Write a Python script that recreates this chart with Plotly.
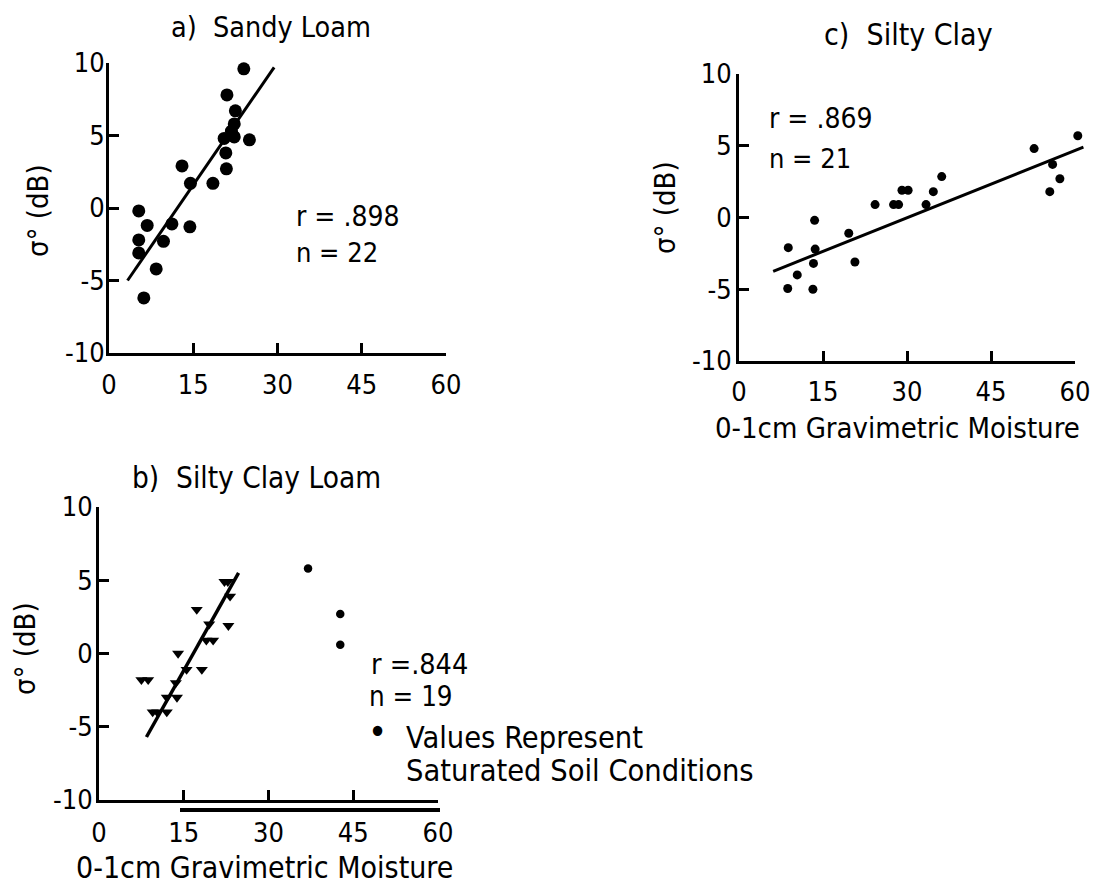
import plotly.graph_objects as go

W, H = 1101, 886
OFF = 8  # page body margin of the html page
FONT = "DejaVu Sans Condensed"

# ---------------- data ----------------
x_ticks = [0, 15, 30, 45, 60]
x_ticktext = ["0", "15", "30", "45", "60"]
y_ticks = [-10, -5, 0, 5, 10]
y_ticktext = ["-10", "-5", "0", "5", "10"]

# a) Sandy Loam
a_x = [24.0, 21.0, 22.5, 22.3, 20.5, 22.3, 25.0, 20.8, 20.9, 13.0, 14.5,
       18.5, 5.3, 6.8, 11.2, 14.4, 9.7, 5.3, 5.3, 8.4, 6.2, 21.8]
a_y = [9.6, 7.8, 6.7, 5.8, 4.8, 4.9, 4.7, 3.8, 2.7, 2.9, 1.7,
       1.7, -0.2, -1.2, -1.1, -1.3, -2.3, -2.2, -3.1, -4.2, -6.2, 5.3]
a_fit_x = [3.3, 29.4]
a_fit_y = [-5.0, 9.7]

# b) Silty Clay Loam
b_x = [7.5, 8.7, 9.5, 10.3, 12.0, 12.0, 13.8, 13.6, 14.0, 15.5, 18.2,
       17.3, 19.0, 20.2, 19.5, 22.9, 22.2, 22.8, 23.2]
b_y = [-1.8, -1.8, -4.0, -4.0, -4.0, -3.0, -3.0, -2.0, 0.0, -1.1, -1.1,
       3.0, 0.9, 0.9, 2.0, 1.9, 4.9, 4.9, 3.9]
b_sat_x = [37.0, 42.7, 42.7]
b_sat_y = [5.8, 2.7, 0.6]
b_fit_x = [8.4, 24.7]
b_fit_y = [-5.7, 5.5]

# c) Silty Clay
c_x = [8.8, 8.7, 10.4, 13.5, 13.6, 13.3, 13.2, 19.6, 20.7, 24.3, 27.6,
       28.5, 29.1, 30.2, 33.4, 34.7, 36.2, 52.7, 56.0, 55.5, 57.3, 60.5]
c_y = [-2.1, -4.95, -4.0, -0.2, -2.2, -3.2, -5.0, -1.1, -3.1, 0.9, 0.9,
       0.9, 1.9, 1.9, 0.9, 1.8, 2.85, 4.8, 3.7, 1.8, 2.7, 5.7]
c_fit_x = [6.1, 61.5]
c_fit_y = [-3.75, 4.9]


def pxx(x):
    return (x - OFF) / W


def pxy(y):
    return 1 - (y - OFF) / H


fig = go.Figure()

blk = "black"
# panel a
fig.add_trace(go.Scatter(x=a_x, y=a_y, mode="markers", xaxis="x", yaxis="y",
                         cliponaxis=False,
                         marker=dict(symbol="circle", size=13, color=blk)))
fig.add_trace(go.Scatter(x=a_fit_x, y=a_fit_y, mode="lines", xaxis="x", yaxis="y",
                         line=dict(color=blk, width=3)))
# panel b
fig.add_trace(go.Scatter(x=b_x, y=b_y, mode="markers", xaxis="x2", yaxis="y2",
                         cliponaxis=False,
                         marker=dict(symbol="triangle-down", size=10.5, color=blk)))
fig.add_trace(go.Scatter(x=b_sat_x, y=b_sat_y, mode="markers", xaxis="x2", yaxis="y2",
                         cliponaxis=False,
                         marker=dict(symbol="circle", size=8.5, color=blk)))
fig.add_trace(go.Scatter(x=b_fit_x, y=b_fit_y, mode="lines", xaxis="x2", yaxis="y2",
                         line=dict(color=blk, width=3.5)))
# panel c: data drawn on a hidden axis with the same scale as the visible one
# but a slightly wider extent, so marks just past 60 stay visible
fig.add_trace(go.Scatter(x=c_x, y=c_y, mode="markers", xaxis="x4", yaxis="y3",
                         cliponaxis=False,
                         marker=dict(symbol="circle", size=9, color=blk)))
fig.add_trace(go.Scatter(x=c_fit_x, y=c_fit_y, mode="lines", xaxis="x4", yaxis="y3",
                         cliponaxis=False,
                         line=dict(color=blk, width=3)))
# an empty trace so the visible x3/y3 axes are drawn
fig.add_trace(go.Scatter(x=[], y=[], mode="markers", xaxis="x3", yaxis="y3"))

TICK_SIZE = 27


def xax(x0, x1, anchor, standoff):
    return dict(domain=[pxx(x0), pxx(x1)], range=[0, 60], anchor=anchor,
                tickvals=x_ticks, ticktext=x_ticktext,
                showline=True, linecolor=blk, linewidth=3,
                ticks="inside", ticklen=10, tickwidth=3, tickcolor=blk,
                showgrid=False, zeroline=False, ticklabelstandoff=standoff,
                automargin=False,
                tickfont=dict(family=FONT, size=TICK_SIZE, color=blk))


def yax(y0, y1, anchor, standoff):
    return dict(domain=[pxy(y1), pxy(y0)], range=[-10, 10], anchor=anchor,
                tickvals=y_ticks, ticktext=y_ticktext,
                showline=True, linecolor=blk, linewidth=3,
                ticks="inside", ticklen=10, tickwidth=3, tickcolor=blk,
                showgrid=False, zeroline=False, ticklabelstandoff=standoff,
                automargin=False,
                tickfont=dict(family=FONT, size=TICK_SIZE, color=blk))


annotations = []


def note(text, x, y, xanchor="center", size=28, angle=0):
    annotations.append(dict(text=text, x=pxx(x), y=pxy(y), xref="paper", yref="paper",
                            xanchor=xanchor, yanchor="middle", showarrow=False,
                            textangle=angle, borderpad=0,
                            font=dict(family=FONT, size=size, color=blk)))


note("a)\u00a0 Sandy Loam", 271, 27, size=28.5)
note("b)\u00a0 Silty Clay Loam", 256, 478, size=29.5)
note("c)\u00a0 Silty Clay", 908, 35, size=30)
note("σ° (dB)", 38, 211, size=29, angle=-90)
note("σ° (dB)", 25, 649, size=29, angle=-90)
note("σ° (dB)", 665, 208, size=29, angle=-90)
note("0-1cm Gravimetric Moisture", 898, 428, size=29)
note("0-1cm Gravimetric Moisture", 264, 867, size=30)
note("r = .898", 295, 216, "left", size=28)
note("n = 22", 295, 252, "left", size=27)
note("r = .869", 768, 118, "left", size=28)
note("n = 21", 768, 158, "left", size=27)
note("r =.844", 370, 664, "left", size=28.5)
note("n = 19", 368, 696, "left", size=27.5)
note("•", 367, 731, "left", size=36)
note("Values Represent", 405, 737, "left", size=30.5)
note("Saturated Soil Conditions", 405, 770, "left", size=30.5)

C_X0, C_X1, C_X1_EXT = 739, 1075, 1095
x4 = dict(domain=[pxx(C_X0), pxx(C_X1_EXT)],
          range=[0, 60 * (C_X1_EXT - C_X0) / (C_X1 - C_X0)],
          anchor="y3", visible=False, showgrid=False, zeroline=False)

fig.update_layout(
    width=W, height=H,
    margin=dict(l=0, r=0, t=0, b=0, pad=0, autoexpand=False),
    paper_bgcolor="white", plot_bgcolor="rgba(0,0,0,0)",
    showlegend=False,
    xaxis=xax(109, 446, "y", 6),
    yaxis=yax(63, 353, "x", -4),
    xaxis2=xax(99, 438, "y2", 7),
    yaxis2=yax(507, 800, "x2", -2),
    xaxis3=xax(C_X0, C_X1, "y3", 5),
    yaxis3=yax(74, 361, "x3", -1),
    xaxis4=x4,
    annotations=annotations,
    shapes=[dict(type="line", xref="paper", yref="paper",
                 x0=pxx(180), x1=pxx(440), y0=pxy(810), y1=pxy(810),
                 line=dict(color=blk, width=4))],
)

fig.write_html("out.html")
